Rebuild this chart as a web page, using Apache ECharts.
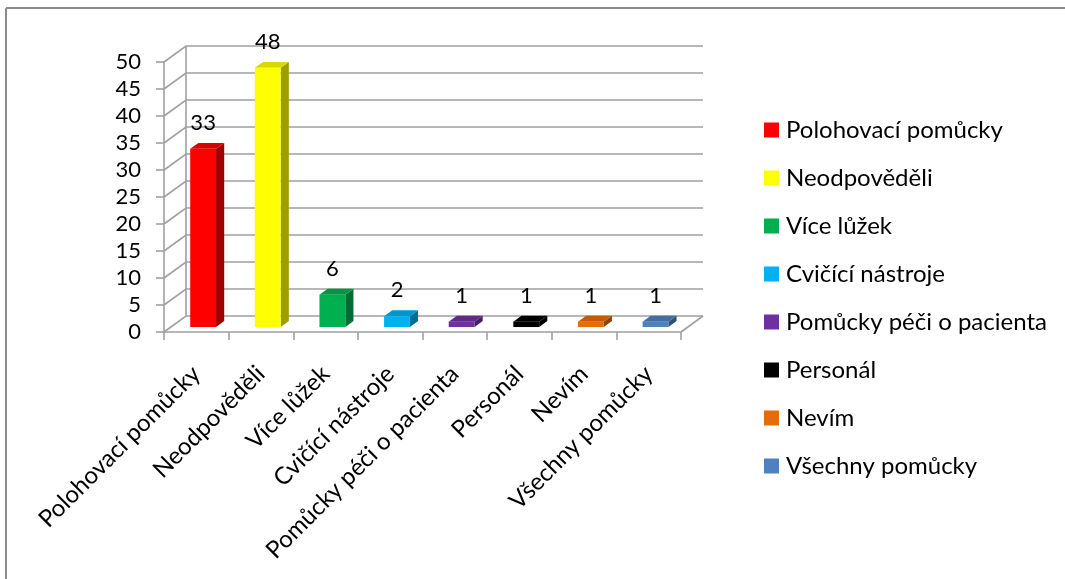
<!DOCTYPE html>
<html><head><meta charset="utf-8">
<script src="https://cdn.jsdelivr.net/npm/echarts/dist/echarts.min.js"></script>
<style>html,body{margin:0;padding:0;background:#fff}#c{width:1065px;height:579px}</style>
</head><body><div id="c"></div>
<script>
const categories = ['Polohovací pomůcky','Neodpověděli','Více lůžek','Cvičící nástroje','Pomůcky péči o pacienta','Personál','Nevím','Všechny pomůcky'];
const values = [33, 48, 6, 2, 1, 1, 1, 1];
const colors = ['#FF0000','#FFFF00','#00B050','#00B0F0','#7030A0','#000000','#E46C0A','#4F81BD'];
const yTicks = [0, 5, 10, 15, 20, 25, 30, 35, 40, 45, 50];

const FONT = 'Lato';
const DX = 22, DY = -16;       // depth of the 3D floor
const GRID_COLOR = '#A0A0A0';

function shade(hex, k) {
  const n = parseInt(hex.slice(1), 16);
  const r = Math.round(((n >> 16) & 255) * k), g = Math.round(((n >> 8) & 255) * k), b = Math.round((n & 255) * k);
  return 'rgb(' + r + ',' + g + ',' + b + ')';
}

function wallRender(params, api) {
  const v = api.value(1);
  const cs = params.coordSys;
  const y = api.coord([0, v])[1];
  const left = cs.x, right = cs.x + cs.width;
  const children = [{
    type: 'polyline',
    shape: { points: [[left, y], [left + DX, y + DY], [right + DX, y + DY]] },
    style: { stroke: GRID_COLOR, lineWidth: 1.6, fill: null }
  }];
  if (v === 0) {
    children.push({
      type: 'polyline',
      shape: { points: [[right, y], [right + DX, y + DY]] },
      style: { stroke: GRID_COLOR, lineWidth: 1.6, fill: null }
    });
    const top = api.coord([0, yTicks[yTicks.length - 1]])[1];
    children.push({
      type: 'line',
      shape: { x1: left + DX, y1: y + DY, x2: left + DX, y2: top + DY },
      style: { stroke: GRID_COLOR, lineWidth: 1.6 }
    });
  }
  return { type: 'group', children: children };
}

function barRender(params, api) {
  const ci = api.value(0), v = api.value(1);
  const p0 = api.coord([ci, 0]), p1 = api.coord([ci, v]);
  const bw = api.size([1, 0])[0] * 0.40;
  const fx = DX * 0.31, fy = DY * 0.31;
  const sx = DX * 0.37, sy = DY * 0.37;
  const xl = p0[0] - bw / 2 + fx, xr = xl + bw;
  const yb = p0[1] + fy, yt = p1[1] + fy;
  const c = colors[ci];
  return {
    type: 'group',
    children: [
      { type: 'polygon', shape: { points: [[xr, yb], [xr + sx, yb + sy], [xr + sx, yt + sy], [xr, yt]] },
        style: { fill: shade(c, 0.62) } },
      { type: 'polygon', shape: { points: [[xl, yt], [xr, yt], [xr + sx, yt + sy], [xl + sx, yt + sy]] },
        style: { fill: shade(c, 0.85) } },
      { type: 'rect', shape: { x: xl, y: yt, width: bw, height: yb - yt },
        style: { fill: c } },
      { type: 'text', x: xl + bw / 2, y: yt - 26,
        style: { text: String(v), fill: '#000', font: '22px ' + FONT, align: 'center', verticalAlign: 'middle' } }
    ]
  };
}

const series = [{
  type: 'custom', name: '_wall', z: 1, silent: true,
  data: yTicks.map(t => [0, t]),
  renderItem: wallRender
}];
categories.forEach((name, i) => {
  series.push({
    type: 'custom', name: name, z: 3,
    itemStyle: { color: colors[i] },
    data: [[i, values[i]]],
    renderItem: barRender
  });
});

const chart = echarts.init(document.getElementById('c'), null, { renderer: 'canvas' });
chart.setOption({
  animation: false,
  backgroundColor: '#fff',
  textStyle: { fontFamily: FONT },
  graphic: [
    { type: 'line', shape: { x1: 6, y1: 8, x2: 1065, y2: 8 }, style: { stroke: '#8C8C8C', lineWidth: 2 } },
    { type: 'line', shape: { x1: 6, y1: 8, x2: 6, y2: 579 }, style: { stroke: '#8C8C8C', lineWidth: 2 } }
  ],
  grid: { left: 164, top: 62, width: 517, height: 270 },
  xAxis: {
    type: 'category', data: categories, boundaryGap: true,
    axisLine: { show: true, lineStyle: { color: GRID_COLOR, width: 1.6 } },
    axisTick: { show: true, length: 8, lineStyle: { color: GRID_COLOR, width: 1.6 } },
    axisLabel: { rotate: 45, interval: 0, fontSize: 24, color: '#000', fontFamily: FONT, margin: 38 },
    splitLine: { show: false }
  },
  yAxis: {
    type: 'value', min: 0, max: 50, interval: 5,
    axisLine: { show: true, lineStyle: { color: GRID_COLOR, width: 1.6 } },
    axisTick: { show: true, length: 8, lineStyle: { color: GRID_COLOR, width: 1.6 } },
    axisLabel: { fontSize: 22, color: '#000', fontFamily: FONT, margin: 23 },
    splitLine: { show: false }
  },
  legend: {
    data: categories, orient: 'vertical', left: 759, top: 111,
    icon: 'rect', itemWidth: 15, itemHeight: 15, itemGap: 20,
    textStyle: { fontSize: 24, color: '#000', fontFamily: FONT, lineHeight: 28, padding: [0, 0, 0, 2] }
  },
  series: series
});
</script></body></html>
